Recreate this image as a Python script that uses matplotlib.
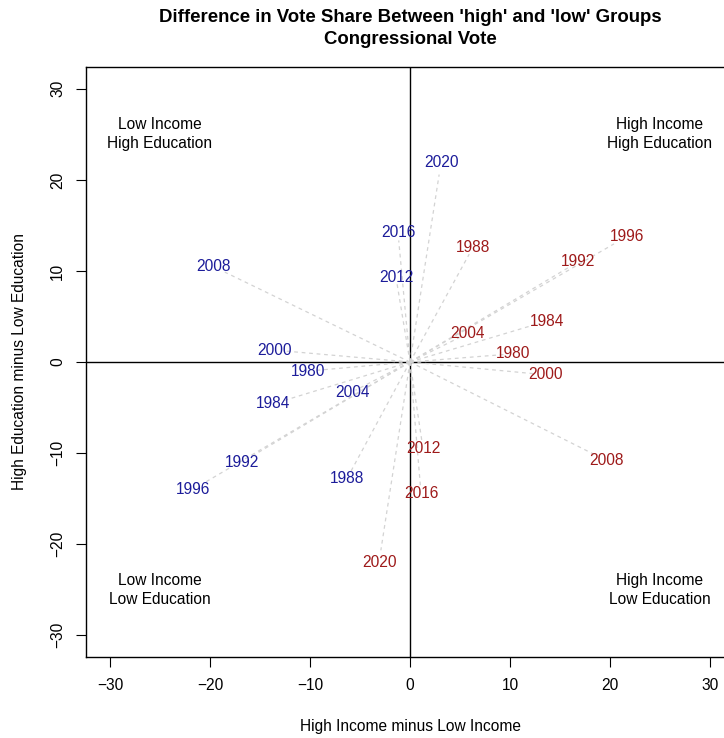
import numpy as np
import matplotlib.pyplot as plt

plt.rcParams['font.family'] = ['Liberation Sans', 'DejaVu Sans']

jahre = ['1980', '1984', '1988', '1992', '1996', '2000', '2004', '2008', '2012', '2016', '2020']

# Demokraten: Einkommen (x) und Bildung (y), jeweils 'high' minus 'low'
dem_x = [-10.2, -13.7, -6.3, -16.8, -21.7, -13.5, -5.8, -19.7, -1.4, -1.2, 3.1]
dem_y = [-1.0, -4.6, -12.8, -11.0, -14.0, 1.3, -3.3, 10.5, 9.3, 14.2, 21.9]

# Republikaner
rep_x = [10.3, 13.7, 6.3, 16.8, 21.7, 13.5, 5.7, 19.6, 1.3, 1.1, -3.1]
rep_y = [0.9, 4.5, 12.6, 11.0, 13.8, -1.4, 3.1, -10.8, -9.5, -14.4, -22.0]

quadranten = [(-25, 25, 'Low Income\nHigh Education'),
              (25, 25, 'High Income\nHigh Education'),
              (-25, -25, 'Low Income\nLow Education'),
              (25, -25, 'High Income\nLow Education')]

blau = '#1c1c9a'
rot = '#9e1a1a'
fs = 11.2

fig = plt.figure(figsize=(7.24, 7.38), dpi=100)
ax = fig.add_axes([86/724, 81/738, 648/724, 590/738])
ax.set_xlim(-32.4, 32.4)
ax.set_ylim(-32.4, 32.4)

ax.axhline(0, color='black', lw=1)
ax.axvline(0, color='black', lw=1)

#Linien vom Ursprung bis kurz vor die Beschriftung
for xs, ys in [(dem_x, dem_y), (rep_x, rep_y)]:
    for x, y in zip(xs, ys):
        ax.plot([0, 0.94*x], [0, 0.94*y], ls=(0, (3, 3)), color='#d3d3d3', lw=0.9)

for x, y, j in zip(dem_x, dem_y, jahre):
    ax.text(x, y, j, color=blau, fontsize=fs, ha='center', va='center')
for x, y, j in zip(rep_x, rep_y, jahre):
    ax.text(x, y, j, color=rot, fontsize=fs, ha='center', va='center')

for x, y, t in quadranten:
    ax.text(x, y, t, fontsize=fs, ha='center', va='center', linespacing=1.35)

ax.set_xticks([-30, -20, -10, 0, 10, 20, 30])
ax.set_yticks([-30, -20, -10, 0, 10, 20, 30])
ax.set_xticklabels(['\u221230', '\u221220', '\u221210', '0', '10', '20', '30'])
ax.set_yticklabels(['\u221230', '\u221220', '\u221210', '0', '10', '20', '30'], rotation=90, va='center')
ax.tick_params(direction='out', length=7, labelsize=fs, pad=8)
for s in ax.spines.values():
    s.set_linewidth(1)

ax.set_xlabel('High Income minus Low Income', fontsize=fs, labelpad=19)
ax.set_ylabel('High Education minus Low Education', fontsize=fs, labelpad=17)

fig.text(410/724, 1 - 18/738, "Difference in Vote Share Between 'high' and 'low' Groups",
         fontsize=13.4, fontweight='bold', ha='center', va='center')
fig.text(410/724, 1 - 40/738, 'Congressional Vote',
         fontsize=13.4, fontweight='bold', ha='center', va='center')

plt.savefig('out.png', dpi=100)
